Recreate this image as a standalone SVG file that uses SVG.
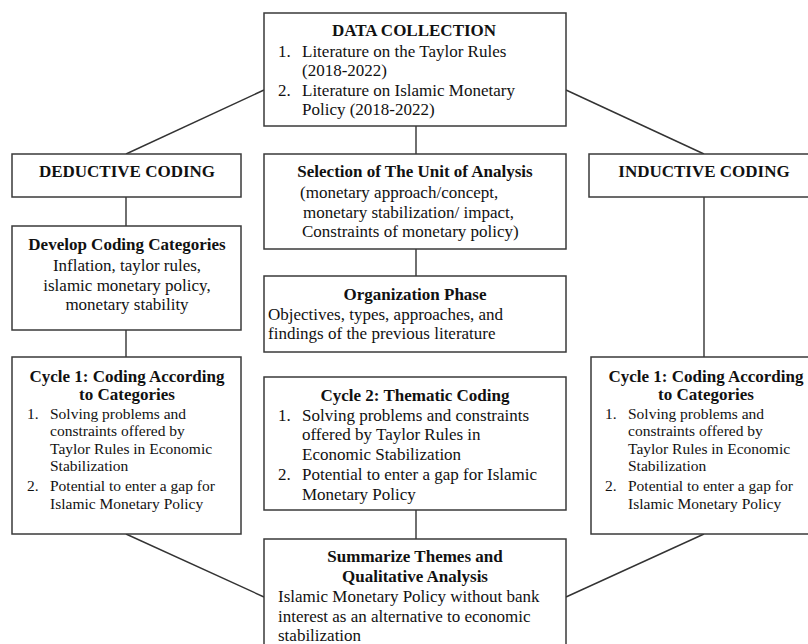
<svg xmlns="http://www.w3.org/2000/svg" width="808" height="644" viewBox="0 0 808 644">
<style>
.box{fill:#fff;stroke:#3a3a3a;stroke-width:1.5}
.ln{stroke:#333;stroke-width:1.4;fill:none}
text{font-family:"Liberation Serif","Times New Roman",serif;fill:#111;font-size:17px}
.b{font-weight:bold}
.c{text-anchor:middle}
.s{font-size:15.5px}
</style>
<rect width="808" height="644" fill="#fff"/>
<g id="connectors">
<line class="ln" x1="264" y1="90" x2="126" y2="154"/>
<line class="ln" x1="566" y1="90" x2="704" y2="154"/>
<line class="ln" x1="126" y1="197" x2="126" y2="226"/>
<line class="ln" x1="126" y1="330" x2="126" y2="357"/>
<line class="ln" x1="704" y1="197" x2="704" y2="357"/>
<line class="ln" x1="416" y1="126" x2="416" y2="154"/>
<line class="ln" x1="416" y1="249" x2="416" y2="276"/>
<line class="ln" x1="416" y1="510" x2="416" y2="539"/>
<line class="ln" x1="126" y1="534" x2="264" y2="597"/>
<line class="ln" x1="704" y1="534" x2="566" y2="597"/>
</g>
<g id="data-collection">
<rect class="box" x="264" y="13" width="302" height="113"/>
<text class="b c" x="414" y="36">DATA COLLECTION</text>
<text x="278" y="57">1.</text><text x="302" y="57">Literature on the Taylor Rules</text>
<text x="302" y="76">(2018-2022)</text>
<text x="278" y="96">2.</text><text x="302" y="96">Literature on Islamic Monetary</text>
<text x="302" y="115">Policy (2018-2022)</text>
</g>
<g id="deductive-coding">
<rect class="box" x="12" y="154" width="229" height="43"/>
<text class="b c" x="127" y="177">DEDUCTIVE CODING</text>
</g>
<g id="inductive-coding">
<rect class="box" x="589" y="154" width="240" height="43"/>
<text class="b c" x="704" y="177">INDUCTIVE CODING</text>
</g>
<g id="develop-coding">
<rect class="box" x="12" y="226" width="229" height="104"/>
<text class="b c" x="127" y="250">Develop Coding Categories</text>
<text class="c" x="127" y="271">Inflation, taylor rules,</text>
<text class="c" x="127" y="291">islamic monetary policy,</text>
<text class="c" x="127" y="310">monetary stability</text>
</g>
<g id="selection-unit">
<rect class="box" x="264" y="154" width="302" height="95"/>
<text class="b c" x="415" y="177">Selection of The Unit of Analysis</text>
<text x="300" y="198">(monetary approach/concept,</text>
<text x="303" y="218">monetary stabilization/ impact,</text>
<text x="302" y="237">Constraints of monetary policy)</text>
</g>
<g id="organization-phase">
<rect class="box" x="264" y="276" width="302" height="76"/>
<text class="b c" x="415" y="300">Organization Phase</text>
<text x="268" y="320">Objectives, types, approaches, and</text>
<text x="268" y="339">findings of the previous literature</text>
</g>
<g id="cycle1-left">
<rect class="box" x="12" y="357" width="229" height="177"/>
<text class="b c" x="127" y="382">Cycle 1: Coding According</text>
<text class="b c" x="127" y="400">to Categories</text>
<text class="s" x="27" y="419">1.</text><text class="s" x="50" y="419">Solving problems and</text>
<text class="s" x="50" y="436">constraints offered by</text>
<text class="s" x="50" y="454">Taylor Rules in Economic</text>
<text class="s" x="50" y="471">Stabilization</text>
<text class="s" x="27" y="491">2.</text><text class="s" x="50" y="491">Potential to enter a gap for</text>
<text class="s" x="50" y="509">Islamic Monetary Policy</text>
</g>
<g id="cycle2-thematic">
<rect class="box" x="264" y="377" width="302" height="133"/>
<text class="b c" x="415" y="401">Cycle 2: Thematic Coding</text>
<text x="278" y="421">1.</text><text x="302" y="421">Solving problems and constraints</text>
<text x="302" y="440">offered by Taylor Rules in</text>
<text x="302" y="460">Economic Stabilization</text>
<text x="278" y="480">2.</text><text x="302" y="480">Potential to enter a gap for Islamic</text>
<text x="302" y="500">Monetary Policy</text>
</g>
<g id="cycle1-right">
<rect class="box" x="591" y="357" width="240" height="177"/>
<text class="b c" x="706" y="382">Cycle 1: Coding According</text>
<text class="b c" x="706" y="400">to Categories</text>
<text class="s" x="605" y="419">1.</text><text class="s" x="628" y="419">Solving problems and</text>
<text class="s" x="628" y="436">constraints offered by</text>
<text class="s" x="628" y="454">Taylor Rules in Economic</text>
<text class="s" x="628" y="471">Stabilization</text>
<text class="s" x="605" y="491">2.</text><text class="s" x="628" y="491">Potential to enter a gap for</text>
<text class="s" x="628" y="509">Islamic Monetary Policy</text>
</g>
<g id="summarize-themes">
<rect class="box" x="264" y="539" width="302" height="120"/>
<text class="b c" x="415" y="562">Summarize Themes and</text>
<text class="b c" x="415" y="582">Qualitative Analysis</text>
<text x="278" y="602">Islamic Monetary Policy without bank</text>
<text x="278" y="622">interest as an alternative to economic</text>
<text x="278" y="641">stabilization</text>
</g>
</svg>
